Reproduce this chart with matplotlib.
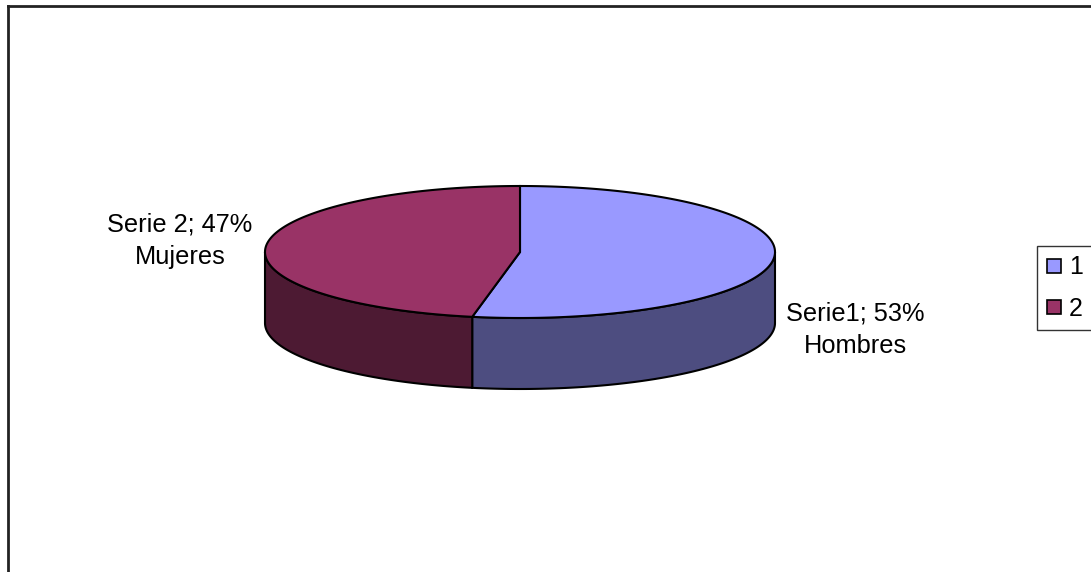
import numpy as np
import matplotlib.pyplot as plt
from matplotlib.patches import Polygon
from matplotlib.lines import Line2D

plt.rcParams['font.family'] = ['Liberation Sans', 'DejaVu Sans']

series = ['1', '2']
labels = ['Serie1; 53%\nHombres', 'Serie 2; 47%\nMujeres']
values = np.array([53, 47])
top_colors = ['#9999ff', '#993366']
side_colors = ['#4d4d80', '#4d1a33']

W, H = 1091, 572
fig = plt.figure(figsize=(W / 100, H / 100), dpi=100)
ax = fig.add_axes([0, 0, 1, 1])
ax.set_xlim(0, W)
ax.set_ylim(H, 0)
ax.axis('off')

# pie geometry (pixels)
cx, cy = 520, 252
a, b = 255, 66
depth = 71


def pt(t):
    return cx + a * np.cos(t), cy - b * np.sin(t)


# excel starts at 12 o'clock, clockwise
fracs = values / values.sum()
starts = np.pi / 2 - 2 * np.pi * np.concatenate([[0], np.cumsum(fracs)[:-1]])
ends = starts - 2 * np.pi * fracs

# sides (front half only)
for i in range(len(values)):
    lo, hi = ends[i], starts[i]
    segs = []
    for k in (-1, 0, 1):
        s = max(lo, np.pi + 2 * np.pi * k)
        e = min(hi, 2 * np.pi + 2 * np.pi * k)
        if e > s:
            segs.append((s, e))
    for s, e in segs:
        t = np.linspace(s, e, 200)
        x, y = pt(t)
        xs = np.concatenate([x, x[::-1]])
        ys = np.concatenate([y, y[::-1] + depth])
        ax.add_patch(Polygon(np.column_stack([xs, ys]), closed=True,
                             facecolor=side_colors[i], edgecolor='black', lw=1.5, zorder=2))

# tops
for i in range(len(values)):
    t = np.linspace(ends[i], starts[i], 300)
    x, y = pt(t)
    xs = np.concatenate([[cx], x])
    ys = np.concatenate([[cy], y])
    ax.add_patch(Polygon(np.column_stack([xs, ys]), closed=True,
                         facecolor=top_colors[i], edgecolor='black', lw=1.5, zorder=3))

# data labels
ax.text(855, 330, labels[0], ha='center', va='center', fontsize=18.3, linespacing=1.45)
ax.text(180, 241, labels[1], ha='center', va='center', fontsize=18.3, linespacing=1.45)

# chart border
fig.add_artist(Line2D([8 / W, 1], [1 - 6 / H, 1 - 6 / H], color='#222222', lw=2))
fig.add_artist(Line2D([8 / W, 8 / W], [1 - 6 / H, 0], color='#222222', lw=2))

handles = [Line2D([], [], ls='none', marker='s', markersize=9.5,
                  markerfacecolor=c, markeredgecolor='black', markeredgewidth=1.2)
           for c in top_colors]
leg = fig.legend(handles, series, loc='center left', bbox_to_anchor=(1037 / W, 1 - 288 / H),
                 fontsize=18, frameon=True, fancybox=False, edgecolor='black',
                 handlelength=0.6, handletextpad=0.3, borderpad=0.38, labelspacing=0.7,
                 borderaxespad=0)
leg.get_frame().set_linewidth(1.0)

fig.savefig('out.png', dpi=100, facecolor='white')
